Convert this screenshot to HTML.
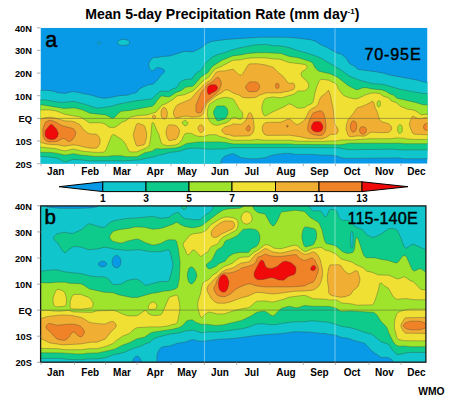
<!DOCTYPE html>
<html><head><meta charset="utf-8"><style>
html,body{margin:0;padding:0;background:#fff;width:450px;height:400px;overflow:hidden}
svg{display:block;font-family:"Liberation Sans",sans-serif}
</style></head><body>
<svg width="450" height="400" viewBox="0 0 450 400">
<rect width="450" height="400" fill="#fff"/>
<text x="222.3" y="19" text-anchor="middle" font-size="14.1" font-weight="bold">Mean 5-day Precipitation Rate (mm day<tspan font-size="8" dy="-5">-1</tspan><tspan dy="5">)</tspan></text>
<g><clipPath id="cp1"><rect x="40.5" y="27.8" width="387.0" height="135.9"/></clipPath>
<g clip-path="url(#cp1)">
<rect x="40.5" y="27.8" width="387.0" height="135.9" fill="#089ae6"/>
<path fill="#10c6cc" fill-rule="evenodd" stroke="#3c3c3c" stroke-opacity="0.45" stroke-width="0.75" d="M98.6,41.9 97.9,42.7 97.9,43.4 98.4,43.9 99.6,43.9 100.1,42.7 99.4,41.9ZM117.6,41.7 117.9,43.7 118.6,44.4 121.4,45.4 126.6,45.2 128.4,44.4 129.4,43.2 129.4,41.7 128.1,40.4 124.9,39.4 120.9,39.7 118.9,40.4ZM429.4,82.4 424.4,82.2 417.6,80.2 389.1,74.9 384.4,73.4 376.6,71.9 358.1,69.4 354.4,66.2 349.4,63.4 345.6,57.7 341.4,54.2 337.1,53.2 326.9,47.4 320.1,44.4 315.6,41.4 311.6,39.9 295.9,37.9 285.4,37.2 260.1,37.2 226.9,39.4 211.9,41.4 207.6,42.9 201.1,47.9 192.9,51.9 184.1,51.4 170.4,55.9 160.6,56.7 157.6,57.4 153.9,57.4 152.4,58.2 150.1,60.9 148.9,63.7 148.9,66.4 150.1,69.2 151.1,70.2 152.9,70.7 156.6,67.7 158.1,67.4 161.4,68.2 163.4,69.2 164.6,70.7 164.6,71.9 160.4,75.9 157.9,79.7 153.9,83.4 152.4,84.2 147.1,85.2 141.1,87.9 139.6,88.9 136.6,92.4 134.9,93.2 132.6,93.4 127.1,95.2 121.1,95.4 106.4,98.2 103.1,98.2 98.4,97.4 93.6,95.7 74.4,91.7 71.9,91.7 65.1,93.4 57.4,92.7 54.1,91.4 48.9,90.4 38.6,90.2 38.6,165.7 220.9,165.7 220.9,161.4 222.1,158.4 225.4,155.9 232.1,153.7 233.6,153.7 241.1,157.7 248.9,158.7 257.1,158.7 263.9,157.9 273.4,154.9 284.1,153.4 290.6,153.4 295.9,154.4 313.1,154.4 317.6,154.9 331.1,155.2 337.6,156.2 340.9,157.7 347.4,158.4 398.9,157.9 403.6,158.7 429.4,158.7Z"/>
<path fill="#0ecb8c" fill-rule="evenodd" stroke="#3c3c3c" stroke-opacity="0.45" stroke-width="0.75" d="M429.4,93.7 422.4,93.4 400.6,89.4 386.1,85.2 380.6,84.2 372.9,83.7 361.6,80.9 349.4,76.2 339.9,69.2 336.6,67.7 333.1,65.2 319.1,57.2 308.9,53.7 297.1,50.4 289.6,47.7 280.6,45.9 273.1,45.7 266.6,44.4 255.1,44.9 238.1,48.2 228.9,50.9 224.1,52.9 217.9,54.4 212.6,56.9 209.4,59.4 205.1,63.7 201.6,69.4 200.1,70.9 197.1,72.4 195.1,74.2 192.1,78.7 190.6,79.2 185.6,79.4 181.9,80.9 179.1,83.2 177.6,86.2 176.1,87.9 171.4,89.4 168.6,91.4 160.9,91.2 159.6,91.7 151.6,98.9 136.6,100.7 119.4,103.9 110.9,106.4 98.1,108.2 95.6,107.9 85.4,104.4 73.9,101.4 62.6,102.4 56.6,101.9 45.6,99.9 38.6,99.7 38.6,156.4 46.1,156.7 55.9,157.9 58.4,158.7 64.1,161.7 66.4,161.7 72.9,159.4 81.6,159.9 88.9,160.9 123.1,160.9 139.6,159.9 145.1,158.4 153.9,156.9 157.6,155.4 163.9,154.2 169.4,152.4 177.1,151.7 180.9,150.9 186.1,148.9 191.6,148.2 198.9,148.2 206.9,149.2 224.9,148.9 230.9,147.7 331.1,147.7 338.4,147.9 349.1,149.7 392.4,149.2 400.9,149.9 429.4,149.9Z"/>
<path fill="#9ee42c" fill-rule="evenodd" stroke="#3c3c3c" stroke-opacity="0.45" stroke-width="0.75" d="M429.4,105.2 422.9,104.7 415.4,102.4 396.9,98.2 393.6,95.2 389.6,93.7 385.6,91.2 381.9,89.9 371.9,88.9 366.4,87.7 363.1,87.7 357.4,89.7 355.6,89.4 347.9,85.4 337.9,77.4 329.9,73.7 319.6,71.4 318.1,70.7 315.1,67.9 313.1,63.7 311.4,62.2 309.4,61.2 298.1,57.7 289.4,56.4 280.6,53.4 267.1,52.7 258.1,52.7 248.1,53.4 240.9,54.9 232.6,55.9 222.1,60.2 213.1,65.9 210.6,68.4 208.9,71.4 207.4,72.9 201.1,76.9 194.9,84.2 192.6,86.2 185.6,87.2 181.1,90.7 176.1,92.4 170.9,95.9 168.6,96.9 161.4,95.9 157.1,100.4 155.1,103.7 152.4,106.2 129.9,110.4 121.4,111.2 119.6,112.2 114.1,117.7 113.1,118.2 111.6,117.9 105.9,114.9 89.9,113.2 81.9,109.7 74.4,107.9 63.9,108.4 42.6,104.9 38.6,104.9 38.6,152.2 50.6,152.4 57.6,153.4 63.9,154.9 66.6,154.9 73.4,153.7 79.9,154.9 94.9,156.4 107.9,156.4 112.1,155.7 120.9,155.7 126.1,156.7 136.4,156.7 138.4,156.2 144.9,152.7 151.9,151.2 155.9,148.7 161.4,148.9 175.9,147.9 180.4,146.7 186.9,143.4 199.1,141.9 219.1,141.9 224.9,142.4 233.1,143.9 291.1,143.9 294.1,144.4 341.1,144.7 349.6,143.2 399.9,143.2 404.4,143.7 429.4,143.7ZM217.1,105.9 223.6,105.9 225.1,106.4 226.9,108.2 227.9,110.7 227.9,113.9 226.4,117.2 224.6,119.2 218.9,120.7 217.4,120.7 216.1,119.7 213.6,113.9 213.6,111.4 214.9,108.7Z"/>
<path fill="#f0e034" fill-rule="evenodd" stroke="#3c3c3c" stroke-opacity="0.45" stroke-width="0.75" d="M429.4,114.4 424.1,114.4 421.4,114.9 415.4,110.7 412.1,109.7 407.6,109.2 400.6,106.4 396.6,102.9 390.9,100.7 388.4,97.7 383.4,96.2 379.4,93.4 374.4,92.9 371.1,93.2 365.4,94.9 356.9,98.9 353.4,98.7 348.4,97.4 344.1,95.7 342.4,94.2 338.4,88.9 336.6,84.7 335.4,83.4 328.6,80.2 321.1,79.2 319.1,81.2 317.1,85.7 315.1,92.2 313.4,100.7 312.6,102.7 311.6,103.7 307.4,105.4 304.4,107.7 300.1,108.2 297.1,107.9 291.4,104.4 288.6,103.9 284.1,106.7 272.1,112.2 265.9,115.7 264.6,115.7 263.6,114.7 262.6,112.4 261.9,109.2 261.9,106.4 263.6,100.7 265.4,98.4 272.4,96.9 277.9,97.7 281.9,97.7 293.9,94.2 298.1,90.9 304.6,90.9 307.1,89.4 308.6,86.7 308.6,84.2 307.1,81.4 302.1,76.9 300.9,74.4 301.9,71.7 305.6,69.4 306.6,68.4 307.1,66.7 306.1,65.2 304.6,64.4 288.6,62.4 279.9,59.2 273.6,58.9 264.1,57.7 251.4,57.9 245.4,58.7 240.1,59.9 233.1,60.2 220.9,66.7 215.9,68.7 213.1,71.2 208.9,76.9 203.4,80.7 193.4,90.7 184.4,94.7 177.1,95.9 173.4,99.2 166.1,103.7 161.9,105.2 155.9,112.2 147.1,114.9 136.9,115.7 130.4,117.2 125.9,120.7 121.6,122.4 116.6,126.4 113.6,127.7 109.4,127.2 107.1,125.9 104.9,123.9 102.6,123.2 98.9,122.7 89.6,122.9 80.9,117.2 64.6,114.2 56.1,110.9 49.6,109.9 38.6,109.9 38.6,146.9 55.9,148.7 63.9,150.7 66.1,150.7 72.1,149.2 73.9,149.2 82.6,151.2 95.9,152.4 103.4,152.2 104.6,151.7 106.1,149.4 111.4,135.9 112.6,134.7 114.1,134.7 120.6,138.7 123.6,141.4 125.6,144.2 129.1,151.4 130.4,151.9 136.6,151.9 146.6,147.7 148.9,145.9 149.6,144.2 150.9,135.9 151.9,123.4 152.6,122.4 153.9,123.2 156.1,128.9 158.6,133.7 161.4,143.2 163.6,144.7 167.1,145.7 174.4,145.2 178.6,143.7 181.9,139.9 184.1,134.9 185.4,133.7 186.6,133.2 191.4,133.4 195.9,135.7 198.9,136.4 203.6,136.4 209.4,134.7 215.9,134.7 219.6,136.4 224.9,137.7 230.4,139.7 235.6,140.4 250.9,140.2 258.1,139.4 263.1,140.2 289.9,140.2 297.1,141.2 324.6,141.4 328.6,140.9 336.6,140.9 341.9,139.9 353.9,139.9 370.9,138.7 390.9,138.7 396.4,137.9 403.4,138.2 406.9,138.9 413.4,139.4 429.4,139.4ZM399.6,124.4 401.4,125.2 402.4,127.7 402.1,131.7 400.4,133.4 399.4,133.4 398.1,132.2 397.6,130.7 397.9,126.4ZM184.4,120.4 186.1,120.7 187.9,122.7 187.6,124.4 185.9,125.9 184.1,125.4 182.1,122.9 182.1,122.2ZM378.4,100.7 379.4,100.7 380.1,101.4 380.6,103.2 380.1,105.9 379.1,106.9 378.4,106.9 377.1,105.2 377.1,102.4ZM232.9,98.9 234.4,100.7 239.4,109.2 241.6,111.4 242.6,113.2 242.9,116.2 242.1,117.9 240.9,119.2 239.9,119.4 234.9,117.4 233.1,117.4 228.6,121.4 226.4,122.7 216.9,125.4 214.4,124.9 211.9,123.7 209.6,121.2 208.1,118.2 207.4,114.9 207.6,109.7 208.6,105.9 209.6,104.2 216.6,99.4 223.9,97.4 227.4,97.4Z"/>
<path fill="#f0af32" fill-rule="evenodd" stroke="#3c3c3c" stroke-opacity="0.45" stroke-width="0.75" d="M200.1,124.9 198.9,125.9 198.1,127.4 198.1,129.2 198.9,130.9 200.4,132.4 201.6,132.4 203.4,130.7 204.1,128.2 202.6,125.7 201.4,124.9ZM169.1,124.7 167.6,126.2 166.1,130.7 166.1,134.2 167.4,137.9 168.6,140.2 169.4,140.7 175.9,139.4 177.4,137.9 179.1,133.9 179.6,129.9 176.6,125.9 174.4,125.2ZM138.4,123.4 137.1,123.7 135.9,125.7 133.4,133.9 133.4,136.2 135.6,143.7 136.6,145.7 137.4,146.2 144.1,144.7 145.1,143.2 146.6,137.2 146.6,133.2 144.9,126.4 143.6,125.2ZM38.6,119.7 38.6,141.9 47.4,144.2 58.6,144.9 64.1,146.2 72.9,144.9 76.9,145.2 87.4,147.7 91.4,148.2 95.9,148.2 97.1,147.7 98.6,145.9 99.9,143.2 100.1,139.4 99.4,137.4 97.4,134.9 95.9,134.2 90.1,133.9 87.1,132.7 83.1,128.9 79.9,124.7 74.6,121.9 71.4,121.2 65.1,120.9 55.6,118.2 49.9,117.2 44.9,117.7ZM412.4,116.4 410.9,118.9 409.4,123.7 409.6,125.9 412.4,132.9 414.4,134.2 429.4,134.9 429.4,117.7 425.1,117.7 419.9,118.9 416.1,117.9 413.6,116.4ZM153.6,115.2 152.6,115.9 152.4,117.2 153.6,118.9 154.6,118.9 155.6,117.9 155.6,116.4 154.6,115.2ZM251.4,113.7 250.1,112.7 249.4,112.7 248.6,113.4 246.1,119.7 245.1,121.2 241.9,123.9 240.6,124.4 233.1,123.9 230.4,125.4 224.6,126.9 222.1,129.4 221.9,130.7 222.4,131.7 225.1,134.2 229.6,134.9 233.4,136.2 248.6,135.9 250.6,135.2 253.1,132.7 254.1,129.2 254.1,125.7 253.1,118.2ZM163.9,107.4 163.1,107.7 161.6,109.7 161.1,111.4 161.1,115.4 162.1,117.9 162.9,118.7 164.6,119.2 166.4,117.9 167.1,116.4 167.4,112.2 165.9,108.4ZM391.6,127.2 390.6,125.4 388.6,123.7 382.1,121.9 379.6,119.9 377.4,112.4 374.9,107.2 373.9,102.9 372.9,101.4 371.9,101.4 368.1,103.7 362.1,106.4 357.6,107.7 356.4,108.7 353.1,113.7 348.4,119.2 346.4,124.7 346.1,129.2 347.6,134.2 348.4,135.7 349.4,136.4 351.6,136.7 357.1,135.9 363.9,136.2 366.1,135.4 370.1,132.7 372.4,132.2 380.9,132.7 388.1,132.4 389.4,131.9 391.1,130.2 391.6,129.2ZM328.9,90.7 328.1,90.4 324.9,93.9 321.4,96.4 319.9,98.9 317.9,104.4 315.4,106.9 311.9,108.7 309.1,110.9 305.1,119.2 303.1,121.4 298.6,124.2 296.6,124.4 294.9,123.4 290.4,119.4 287.9,118.9 284.6,120.7 280.4,122.2 267.4,122.4 264.9,122.9 263.4,124.4 262.1,127.9 262.6,131.2 264.4,134.4 267.1,135.4 289.1,135.2 299.9,136.7 309.1,138.7 321.9,138.9 326.4,137.4 330.6,134.4 335.1,134.4 336.9,133.7 338.1,131.4 338.1,129.2 337.1,127.2 335.4,125.2 334.6,122.9 333.4,110.4 330.4,95.2ZM294.6,84.9 294.1,83.9 292.6,82.9 290.4,83.4 288.4,83.2 282.9,76.2 277.9,72.2 273.1,67.2 264.4,64.7 257.1,63.7 249.6,63.9 248.1,64.9 242.9,73.4 241.1,75.2 238.9,74.7 233.9,69.7 232.9,69.2 224.6,70.9 218.6,71.2 215.9,72.4 212.1,78.2 209.9,80.4 204.9,83.7 196.6,92.2 190.6,99.2 177.6,104.7 175.9,106.4 173.9,110.2 173.4,112.2 173.6,114.4 174.4,116.7 175.9,117.9 177.6,117.9 183.6,116.2 187.9,116.2 192.1,117.2 200.4,116.2 202.1,115.2 203.4,113.7 205.6,106.2 206.9,103.7 215.9,95.9 221.4,92.9 225.4,89.9 227.1,89.9 229.4,90.7 233.6,93.2 238.9,94.9 242.6,97.4 248.1,97.9 253.6,97.7 255.9,97.2 259.6,95.2 265.9,92.9 280.9,92.9 284.1,91.9 288.4,91.4 290.9,90.2 292.6,89.9 294.1,88.7 294.6,87.7Z"/>
<path fill="#f08228" fill-rule="evenodd" stroke="#3c3c3c" stroke-opacity="0.45" stroke-width="0.75" d="M361.9,126.7 360.6,127.4 359.6,129.2 359.6,131.4 360.9,133.4 362.4,134.2 363.6,134.2 365.9,132.4 366.4,129.7 365.9,128.2 364.6,126.9ZM248.9,125.4 247.9,125.7 246.1,128.2 246.4,129.9 247.9,131.2 249.1,130.9 250.1,129.4 250.1,127.2ZM287.4,124.9 286.4,125.9 286.9,127.2 288.1,126.7 288.1,125.4ZM424.9,123.9 423.6,125.9 423.6,127.9 424.4,129.4 425.9,130.4 429.4,130.4 429.4,123.2 427.1,123.2ZM352.9,120.9 351.6,121.9 350.4,125.2 350.4,128.4 351.4,130.9 352.1,131.7 353.9,132.2 355.1,131.4 356.1,129.7 356.6,127.9 356.6,124.4 356.1,122.7 354.9,121.2ZM44.4,124.2 42.9,129.9 43.1,135.9 44.9,139.7 47.4,141.4 49.6,141.9 55.1,141.7 58.4,140.9 62.9,138.4 64.6,138.7 67.9,141.2 69.9,141.4 72.9,139.2 75.1,135.7 75.9,132.2 74.1,129.4 71.9,128.2 62.1,125.7 55.1,121.7 51.1,120.4 48.9,120.4 46.1,121.7ZM321.6,110.9 319.6,110.9 313.6,112.7 312.4,113.9 309.6,119.9 307.9,125.2 307.6,129.7 308.4,131.4 309.9,132.9 312.6,134.4 317.9,135.4 321.4,135.4 322.4,134.9 324.9,131.9 325.9,128.4 325.9,124.2 325.1,118.7 323.9,113.9ZM277.1,83.2 276.1,83.7 275.6,84.7 275.6,86.9 276.4,88.2 277.9,88.4 278.9,87.4 279.1,84.9 278.1,83.4ZM245.9,85.9 245.6,87.4 246.4,89.2 248.4,91.4 249.9,91.9 256.4,91.4 258.6,89.7 259.6,87.7 259.6,85.9 258.9,84.2 257.6,82.7 256.1,81.9 249.9,81.9 248.9,82.4ZM218.4,77.4 217.1,77.4 212.6,81.4 207.4,84.7 205.4,86.7 203.6,89.7 201.1,92.7 196.1,104.7 195.9,111.4 197.1,112.7 200.1,112.9 201.4,111.7 205.9,102.4 216.9,92.7 219.1,90.2 221.1,85.2 221.4,83.2 220.1,79.7Z"/>
<path fill="#f00a0a" fill-rule="evenodd" stroke="#3c3c3c" stroke-opacity="0.45" stroke-width="0.75" d="M51.4,124.4 50.1,124.9 45.6,130.2 45.1,131.7 45.1,135.2 45.9,136.9 47.4,138.4 50.1,139.4 53.4,139.4 55.4,138.7 57.4,136.9 58.4,133.2 56.4,128.9 52.6,124.9ZM313.4,122.4 311.4,125.9 311.4,128.2 311.9,129.4 313.4,130.9 315.4,131.7 318.1,131.9 320.9,131.2 321.9,130.2 322.9,127.9 322.9,125.9 321.4,122.9 320.6,122.2 318.4,121.4 314.9,121.7ZM216.1,85.2 214.9,84.7 211.1,84.7 209.1,85.7 207.9,86.9 207.4,88.7 207.4,92.2 208.4,94.2 209.9,94.4 211.6,92.9 215.4,91.2 216.9,89.7 217.4,88.7 217.4,86.7Z"/>
</g></g>
<line x1="40.5" y1="118.4" x2="427.5" y2="118.4" stroke="#5a5a3a" stroke-opacity="0.5" stroke-width="1"/>
<line x1="204.5" y1="28.2" x2="204.5" y2="163.7" stroke="#fff" stroke-opacity="0.4" stroke-width="1.1"/>
<line x1="335" y1="28.2" x2="335" y2="163.7" stroke="#fff" stroke-opacity="0.4" stroke-width="1.1"/>
<text x="45.3" y="46.7" font-size="21.5" stroke="#000" stroke-width="0.5">a</text>
<text x="421.5" y="60.2" text-anchor="end" font-size="16.2" letter-spacing="0.8" stroke="#000" stroke-width="0.4">70-95E</text>
<g><clipPath id="cp2"><rect x="40.5" y="205.8" width="385.5" height="156.5"/></clipPath>
<g clip-path="url(#cp2)">
<rect x="40.5" y="205.8" width="385.5" height="156.5" fill="#089ae6"/>
<path fill="#10c6cc" fill-rule="evenodd" stroke="#3c3c3c" stroke-opacity="0.45" stroke-width="0.75" d="M38.6,203.9 38.6,364.2 132.9,364.2 132.9,360.7 133.4,358.9 135.4,356.7 136.4,356.2 138.4,356.4 140.6,358.9 141.1,360.7 141.1,364.2 156.9,364.2 156.9,355.7 157.4,353.4 159.1,349.7 161.1,347.4 163.6,346.7 169.9,345.9 177.4,343.2 185.1,342.2 191.6,339.7 193.9,339.7 199.4,341.2 203.9,341.2 216.9,339.4 234.1,338.4 258.1,335.2 282.6,333.4 295.1,331.7 310.6,332.2 320.6,333.4 325.1,333.4 328.9,334.4 335.6,335.2 341.4,337.4 347.9,338.2 355.4,340.9 363.6,342.9 365.1,343.7 371.6,350.7 379.9,356.7 381.6,357.4 387.6,357.4 390.9,358.9 392.9,361.2 393.1,364.2 427.9,364.2 427.9,203.9 83.1,203.9 91.1,204.2 96.6,204.9 97.9,205.7 97.1,206.9 90.1,207.9 76.1,208.4 58.6,208.2 46.9,206.9 46.1,205.7 47.4,204.9 52.9,204.2 60.9,203.9ZM98.4,263.2 100.4,261.4 103.9,261.2 105.1,261.7 106.6,263.2 106.6,264.7 105.6,265.9 104.1,266.7 100.9,266.7 98.6,265.2ZM116.4,255.4 118.1,255.9 119.9,257.7 120.9,260.4 120.9,263.2 120.1,265.4 118.6,267.2 116.9,267.9 114.4,267.2 112.9,265.4 112.1,263.2 112.1,260.4 113.1,257.7 114.9,255.9Z"/>
<path fill="#0ecb8c" fill-rule="evenodd" stroke="#3c3c3c" stroke-opacity="0.45" stroke-width="0.75" d="M38.6,271.2 38.6,358.4 59.9,358.4 71.6,359.7 82.6,359.7 87.1,358.9 96.1,358.9 101.4,358.4 106.6,357.4 113.4,354.7 118.4,353.9 125.4,351.9 132.4,348.7 141.9,345.7 145.1,343.9 148.9,342.7 150.6,341.7 153.9,338.7 159.4,336.7 169.6,334.2 180.1,332.7 185.9,330.9 193.9,330.2 200.9,332.7 208.1,331.9 218.1,331.9 242.4,328.7 248.1,327.2 257.1,323.9 263.6,323.7 270.1,324.7 275.6,324.7 281.6,323.4 293.4,321.9 304.9,321.7 310.1,320.9 315.6,320.9 320.1,321.7 326.4,321.9 335.6,324.2 341.4,326.4 348.6,327.4 355.1,328.9 365.6,332.7 371.9,334.2 381.1,341.7 388.4,344.2 393.4,351.2 397.1,354.4 399.6,354.4 404.4,353.2 410.6,352.4 427.9,352.4 427.9,249.7 424.6,249.4 414.1,244.4 412.4,244.4 409.9,245.7 407.4,247.7 405.4,248.2 403.4,245.2 401.1,238.4 397.9,231.2 396.6,229.7 394.9,228.9 390.9,228.4 388.1,228.9 381.6,233.7 374.4,237.2 371.6,237.2 366.6,234.7 363.9,231.2 361.9,229.4 354.4,226.2 349.1,220.9 347.4,220.4 342.4,220.4 340.9,219.7 339.1,217.4 337.1,211.9 335.9,210.2 331.9,209.4 329.9,209.7 329.1,210.4 326.9,215.7 325.9,216.7 324.9,216.7 320.6,210.9 313.4,210.9 311.6,209.9 309.1,206.9 308.9,203.9 213.1,203.9 212.9,208.4 211.4,210.7 208.9,212.9 204.6,215.4 200.9,219.2 199.6,219.7 192.4,219.7 189.6,218.9 184.9,218.7 182.1,216.7 178.9,212.9 177.1,212.4 173.9,213.7 169.9,216.7 167.1,217.7 160.1,218.2 153.9,216.7 148.6,216.7 137.4,217.9 127.4,218.4 114.9,220.4 110.4,222.2 104.4,227.4 100.9,227.2 89.4,223.7 87.6,224.4 81.4,229.7 73.1,233.4 70.9,233.4 64.1,232.2 56.9,233.9 54.1,236.4 53.6,237.4 53.9,239.4 57.9,243.4 61.9,249.9 64.6,252.7 65.9,252.4 68.6,249.7 73.6,246.4 81.4,247.2 88.6,249.7 97.6,248.9 103.4,247.4 105.9,247.4 116.4,249.4 127.4,250.4 138.9,249.7 150.9,251.7 160.4,251.7 168.6,249.7 170.1,251.9 172.9,263.2 172.9,266.4 169.4,279.9 167.6,281.4 159.6,281.7 145.4,285.4 139.1,280.2 137.1,279.2 133.6,279.2 127.4,280.4 120.4,284.2 113.6,284.7 111.6,282.9 108.6,279.2 104.6,276.9 95.6,276.7 89.9,275.9 81.6,273.7 65.1,271.9 57.6,269.9 51.6,269.9 41.9,271.2ZM351.6,231.4 352.6,231.9 353.1,234.9 352.9,246.2 352.1,248.2 351.4,247.9 350.9,246.4 350.4,237.7 350.6,233.7ZM181.1,203.9 181.1,206.2 181.9,208.2 183.1,209.4 185.1,209.4 186.6,207.4 186.9,203.9Z"/>
<path fill="#9ee42c" fill-rule="evenodd" stroke="#3c3c3c" stroke-opacity="0.45" stroke-width="0.75" d="M427.9,271.9 425.6,271.9 420.9,268.7 418.9,268.9 415.4,270.7 413.6,270.9 412.1,269.4 406.6,257.2 405.6,255.9 404.4,255.4 402.4,256.4 398.4,261.7 396.9,262.9 395.6,262.9 388.1,260.4 381.4,259.4 375.6,257.9 366.1,257.7 364.1,255.9 362.9,253.4 358.4,239.7 356.9,237.2 356.4,237.4 355.6,239.7 354.6,248.4 353.6,251.4 352.4,252.7 347.6,253.4 342.4,251.7 339.6,248.9 335.4,245.9 332.9,244.9 326.9,243.7 325.4,242.4 324.1,239.2 322.1,230.2 319.4,223.7 317.1,221.4 310.1,217.4 304.9,211.9 303.9,211.4 295.4,210.2 281.9,211.9 280.6,212.9 278.6,218.2 276.1,222.9 273.9,225.7 272.6,225.9 270.4,223.7 265.6,214.9 264.6,213.9 258.4,212.7 256.9,211.9 254.1,209.4 252.9,206.9 252.9,203.9 245.1,203.9 244.9,204.9 243.6,206.4 239.9,208.2 228.1,208.9 223.4,209.9 217.4,213.7 202.4,225.2 199.6,226.4 194.1,227.7 191.1,227.7 184.6,226.4 180.1,224.4 177.4,222.4 176.1,222.4 172.4,224.4 162.6,227.9 159.1,228.7 152.6,229.2 144.1,227.2 135.4,226.9 128.6,228.4 120.4,229.4 115.1,230.7 112.9,231.7 110.4,234.7 109.6,236.7 110.1,238.4 112.6,241.2 119.1,242.9 122.4,242.9 127.9,240.9 136.4,238.9 139.6,239.7 144.9,242.4 152.1,244.9 154.6,244.9 160.1,243.7 165.9,240.7 168.9,239.7 175.1,239.9 176.6,241.2 178.6,250.4 180.1,262.7 179.4,278.2 177.6,287.2 175.9,288.7 169.4,290.7 162.9,291.2 157.1,292.7 152.4,293.2 137.4,297.4 131.4,297.4 119.1,294.9 112.9,292.7 104.1,292.2 89.4,288.9 83.4,284.9 80.6,283.7 69.1,283.2 65.6,282.2 56.1,282.2 50.1,282.9 38.6,282.7 38.6,352.7 61.6,352.9 75.6,353.9 83.1,353.9 87.4,353.2 98.1,352.9 114.6,349.2 122.4,345.2 129.4,342.7 137.1,338.7 144.4,337.2 149.9,333.4 152.6,332.2 172.6,329.2 178.6,327.7 182.4,325.7 186.6,320.9 189.6,319.9 192.6,319.9 195.6,322.2 200.9,324.2 208.1,324.4 215.1,325.4 222.9,324.9 241.6,320.4 251.1,315.9 256.9,312.2 262.6,311.2 265.6,311.4 270.9,315.2 273.1,315.9 275.1,314.7 277.6,311.7 281.6,308.2 288.4,306.4 290.4,306.4 295.1,307.7 298.1,307.7 304.4,305.4 311.4,306.2 329.4,306.4 335.6,307.9 341.1,311.4 350.9,310.9 373.9,312.4 376.9,314.9 381.1,321.4 385.9,326.2 387.4,328.7 388.6,332.4 392.6,340.7 394.1,342.9 396.6,345.4 399.6,346.2 403.6,345.9 410.4,346.7 427.9,346.7ZM191.4,266.9 192.9,267.4 193.9,268.4 195.9,271.9 196.9,275.2 196.6,276.9 194.9,280.9 192.1,283.9 190.4,283.7 188.9,282.2 187.4,277.4 187.4,273.2 188.9,268.4 189.9,267.4ZM257.9,231.2 259.1,233.4 259.9,236.2 259.9,239.7 258.4,243.9 256.4,246.4 251.6,248.7 248.4,252.4 239.4,252.4 233.4,253.7 228.9,256.4 224.9,261.2 219.4,263.4 216.4,265.9 213.6,267.4 210.4,268.7 208.6,268.7 206.6,266.9 206.4,264.9 206.9,263.9 211.9,259.9 216.4,250.7 217.9,249.2 220.1,248.2 222.9,245.9 224.9,241.7 226.1,240.4 229.6,239.4 237.1,235.7 243.1,229.4 249.9,228.7 255.9,229.7ZM305.4,226.7 314.4,228.7 315.6,229.9 316.6,233.2 316.4,238.4 313.9,243.9 312.1,245.2 305.9,246.9 305.1,246.7 303.6,244.7 301.9,238.2 301.9,235.2 302.9,230.2 303.9,227.9Z"/>
<path fill="#f0e034" fill-rule="evenodd" stroke="#3c3c3c" stroke-opacity="0.45" stroke-width="0.75" d="M396.9,313.7 395.1,318.7 394.4,323.4 394.4,327.9 396.9,337.7 398.1,339.4 403.9,340.7 427.9,340.9 427.9,309.2 410.9,309.2 406.4,309.7 400.6,311.2 398.1,312.4ZM156.4,304.2 153.9,301.9 151.6,302.2 148.6,305.2 148.1,308.7 149.1,309.4 153.9,309.4 155.4,308.9 156.9,306.9 156.9,305.2ZM177.9,296.2 177.1,295.2 176.1,294.9 169.1,297.4 162.1,313.4 160.9,314.7 157.1,315.4 152.6,315.4 150.9,314.9 148.1,313.4 146.4,310.7 144.6,310.7 137.1,315.7 128.1,315.9 122.4,313.9 117.1,311.4 113.1,310.4 97.1,310.9 91.4,312.4 73.1,311.9 69.1,310.4 59.6,311.2 52.1,310.9 49.9,310.4 38.6,310.4 38.6,348.4 57.1,348.7 64.6,349.7 81.6,349.7 88.4,348.7 96.9,348.7 105.9,346.4 112.6,343.7 117.4,339.7 123.1,335.9 129.1,333.7 133.1,329.9 136.9,327.7 149.4,326.9 160.6,326.9 168.1,325.9 171.6,324.7 175.6,323.9 176.9,322.9 177.9,320.4 179.9,309.7 179.4,302.9ZM71.6,297.2 70.1,301.7 70.1,306.9 70.6,308.4 71.6,308.9 80.9,309.2 91.4,307.9 92.9,306.4 93.1,302.9 90.9,299.2 88.4,297.2 80.6,294.4 74.1,294.4 72.9,295.2ZM57.1,289.4 55.1,292.2 53.1,297.7 53.1,302.2 53.9,305.4 56.1,306.9 64.6,306.2 65.9,305.2 66.6,300.7 66.4,297.7 64.6,292.2 62.6,290.7 58.9,289.4ZM197.6,306.7 200.1,315.9 201.1,317.4 201.9,317.4 204.9,314.4 208.4,312.2 210.4,312.2 217.1,313.9 224.1,313.9 233.9,310.7 241.9,308.7 247.9,307.9 250.6,306.4 254.4,302.9 257.1,301.2 264.9,300.9 270.9,301.9 273.6,301.9 282.1,299.7 289.1,297.2 303.1,295.4 306.1,295.7 312.9,298.7 325.4,299.2 328.6,299.9 335.6,299.9 337.4,300.4 341.6,302.9 351.6,303.9 356.6,305.2 372.1,304.9 373.6,303.7 375.1,300.2 378.4,290.2 379.6,283.9 380.6,282.9 381.6,283.2 384.1,285.7 388.4,288.2 392.6,295.7 395.1,298.4 397.1,299.4 402.9,298.7 406.9,298.7 413.9,299.7 427.9,299.9 427.9,289.9 423.6,289.9 420.6,289.2 413.6,281.9 409.1,279.9 404.9,276.9 403.6,276.9 399.1,278.7 397.1,278.9 388.9,275.2 378.6,274.9 371.6,272.2 366.9,271.2 362.9,267.7 356.1,264.7 352.1,262.2 341.1,258.9 336.1,254.2 329.1,250.9 325.4,250.2 321.4,247.4 312.6,248.4 306.4,251.4 304.4,251.4 302.6,250.4 297.9,246.2 295.6,245.2 292.1,245.7 281.1,248.7 274.1,248.2 269.6,245.4 267.4,244.7 265.1,244.7 257.9,250.2 253.9,252.4 249.4,256.4 248.1,256.9 242.1,257.2 240.1,257.7 237.4,259.2 232.1,263.4 223.4,266.9 220.9,268.7 216.9,272.7 212.6,275.2 208.4,279.7 204.4,281.7 202.9,283.4 202.1,285.4 200.6,293.4 197.9,301.7ZM237.6,220.7 236.4,219.2 233.1,217.7 227.9,216.9 224.1,217.2 219.6,219.2 210.6,224.9 205.9,230.7 200.6,232.9 193.4,233.7 189.9,235.2 184.1,242.2 183.1,244.2 183.4,246.4 185.6,250.2 186.6,253.7 187.6,254.7 188.9,254.7 192.6,250.2 193.9,249.9 194.9,250.4 200.6,256.4 202.1,255.9 204.6,253.7 208.1,251.7 209.9,248.4 211.6,246.4 217.1,244.2 218.4,242.9 220.1,239.9 222.9,237.2 235.4,230.7 236.9,228.9 237.9,226.2 238.1,223.2ZM245.9,211.7 244.1,212.4 242.4,214.2 241.1,217.4 241.1,219.4 242.4,221.9 243.9,223.4 246.9,224.2 249.6,223.2 251.4,221.4 252.1,219.7 252.1,217.4 250.9,214.4 248.9,212.2Z"/>
<path fill="#f0af32" fill-rule="evenodd" stroke="#3c3c3c" stroke-opacity="0.45" stroke-width="0.75" d="M401.1,324.2 401.1,327.2 403.6,331.4 405.4,333.2 427.9,333.4 427.9,317.4 405.9,317.7 404.4,318.7ZM38.6,338.4 41.6,338.9 49.9,342.9 63.1,344.9 81.1,343.9 90.9,342.2 96.9,342.2 105.4,338.9 110.9,331.9 115.4,327.7 116.4,325.4 115.6,323.7 113.9,321.9 112.6,321.4 109.9,321.9 105.4,323.9 100.9,323.9 91.9,322.9 88.6,321.9 84.6,319.2 81.1,317.4 71.6,315.4 61.9,314.9 47.9,316.4 41.4,318.4 38.6,318.7ZM330.1,264.9 328.9,267.2 327.4,275.2 327.4,280.7 328.6,288.2 328.6,292.7 330.1,294.7 332.4,295.7 340.1,297.2 344.4,296.9 349.1,295.4 351.1,293.9 352.9,290.9 357.6,286.9 358.9,284.4 359.9,280.2 359.9,277.9 357.9,271.9 357.1,270.9 355.6,270.7 350.1,273.7 348.1,273.7 344.4,270.7 340.4,265.2 338.1,264.7ZM320.4,260.2 318.1,255.4 316.1,253.2 313.9,251.9 312.6,251.9 309.4,253.4 305.4,254.4 302.4,253.4 297.6,249.9 295.1,249.7 282.9,252.7 279.6,252.9 272.4,251.9 266.9,248.9 264.6,248.7 260.1,251.9 255.1,254.7 249.9,261.2 248.1,261.9 240.6,263.2 232.9,267.9 225.4,269.9 221.4,272.2 208.6,284.9 207.1,287.7 207.1,290.7 210.9,297.9 213.9,301.2 216.4,302.7 218.4,303.2 224.9,303.2 230.4,301.9 241.6,297.7 248.6,295.9 255.9,292.4 259.9,292.4 271.4,293.9 274.4,293.9 295.4,291.2 306.1,290.9 312.4,290.2 314.9,289.2 318.4,286.4 319.6,284.7 321.4,280.4 322.6,274.9 322.6,270.2ZM233.6,222.2 231.9,221.2 224.9,220.9 220.4,222.9 215.9,225.9 212.4,229.7 211.4,231.4 211.1,233.2 211.6,235.9 213.1,237.2 215.9,237.4 218.1,236.4 222.1,233.7 232.1,229.2 233.6,227.9 234.6,225.9 234.6,224.4Z"/>
<path fill="#f08228" fill-rule="evenodd" stroke="#3c3c3c" stroke-opacity="0.45" stroke-width="0.75" d="M45.9,326.9 46.4,328.7 50.1,331.7 56.1,338.4 58.1,339.4 62.6,340.2 65.1,340.2 67.1,338.9 69.1,336.9 71.1,333.7 73.1,331.9 74.6,332.4 78.1,335.7 80.4,336.9 81.6,336.7 83.1,335.2 84.4,332.7 84.4,331.4 83.4,329.4 80.9,326.4 78.9,325.4 73.9,324.2 68.1,324.2 56.9,325.2 49.6,323.4 48.1,323.9 46.4,325.7ZM403.4,325.2 403.9,326.9 405.4,328.2 407.9,329.2 411.9,329.9 418.1,329.9 421.1,329.4 424.9,328.2 426.9,326.2 426.9,324.9 425.4,323.2 421.6,321.7 418.9,321.2 411.1,321.2 408.4,321.7 404.9,323.2ZM318.1,267.2 314.9,260.2 312.6,257.9 310.1,258.4 305.4,260.4 303.9,260.4 299.6,258.4 296.4,254.7 293.4,254.7 282.1,256.4 275.1,256.4 269.9,255.7 265.1,253.9 261.9,255.9 258.4,256.9 257.6,257.7 255.6,262.4 252.9,264.7 247.1,266.7 241.6,267.9 239.1,269.9 233.1,272.2 229.9,272.9 224.1,272.9 220.9,274.2 218.9,276.7 216.9,280.7 215.9,283.9 213.9,287.7 213.9,289.7 216.1,293.9 217.9,295.7 222.6,296.7 225.1,296.7 230.6,293.9 234.9,289.9 237.1,288.4 242.9,285.7 248.1,283.9 250.6,283.9 256.6,285.9 264.6,286.9 292.4,286.9 304.6,285.9 308.6,283.7 312.6,282.4 313.9,281.2 315.9,277.7 317.9,272.7 318.4,269.7Z"/>
<path fill="#f00a0a" fill-rule="evenodd" stroke="#3c3c3c" stroke-opacity="0.45" stroke-width="0.75" d="M222.9,274.7 220.6,276.4 219.6,278.2 218.6,281.4 218.4,284.4 218.9,288.2 219.9,290.2 221.9,291.9 224.1,292.2 225.9,291.2 227.4,288.9 228.6,285.2 228.9,281.4 226.9,276.4 224.4,274.7ZM314.4,265.4 312.9,265.4 311.1,267.2 310.6,269.2 311.4,270.2 313.4,270.7 315.1,269.7 315.6,268.7 315.6,266.9ZM254.1,275.4 254.9,277.7 256.4,278.9 258.4,279.7 263.6,279.4 270.1,277.7 272.6,277.7 278.9,279.9 283.6,280.2 288.4,276.4 293.6,274.7 295.1,273.7 295.9,271.2 295.9,267.7 294.9,265.9 291.1,262.7 286.4,261.2 284.6,261.2 282.1,262.2 277.1,266.4 272.1,268.4 267.9,268.2 265.6,266.4 263.6,261.2 261.4,259.9 259.9,261.4 254.6,271.4 254.1,272.9Z"/>
</g></g>
<line x1="40.5" y1="310.1" x2="426" y2="310.1" stroke="#5a5a3a" stroke-opacity="0.5" stroke-width="1"/>
<line x1="204.5" y1="205.8" x2="204.5" y2="362.3" stroke="#fff" stroke-opacity="0.4" stroke-width="1.1"/>
<line x1="335" y1="205.8" x2="335" y2="362.3" stroke="#fff" stroke-opacity="0.4" stroke-width="1.1"/>
<rect x="40.6" y="205.9" width="385.3" height="156.3" fill="none" stroke="#1a1a1a" stroke-width="1.3"/>
<text x="44.5" y="224.4" font-size="20.5" stroke="#000" stroke-width="0.5">b</text>
<text x="418" y="224" text-anchor="end" font-size="16.2" letter-spacing="0.2" stroke="#000" stroke-width="0.4">115-140E</text>
<g font-size="9.3" font-weight="bold">
<text x="32" y="31.8" text-anchor="end">40N</text>
<line x1="37" y1="27.8" x2="40.5" y2="27.8" stroke="#999" stroke-width="0.8"/>
<text x="32" y="54.4" text-anchor="end">30N</text>
<line x1="37" y1="50.4" x2="40.5" y2="50.4" stroke="#999" stroke-width="0.8"/>
<text x="32" y="77.1" text-anchor="end">20N</text>
<line x1="37" y1="73.1" x2="40.5" y2="73.1" stroke="#999" stroke-width="0.8"/>
<text x="32" y="99.7" text-anchor="end">10N</text>
<line x1="37" y1="95.7" x2="40.5" y2="95.7" stroke="#999" stroke-width="0.8"/>
<text x="32" y="122.4" text-anchor="end">EQ</text>
<line x1="37" y1="118.4" x2="40.5" y2="118.4" stroke="#999" stroke-width="0.8"/>
<text x="32" y="145.0" text-anchor="end">10S</text>
<line x1="37" y1="141.0" x2="40.5" y2="141.0" stroke="#999" stroke-width="0.8"/>
<text x="32" y="167.7" text-anchor="end">20S</text>
<line x1="37" y1="163.7" x2="40.5" y2="163.7" stroke="#999" stroke-width="0.8"/>
<text x="32" y="209.8" text-anchor="end">40N</text>
<line x1="37" y1="205.8" x2="40.5" y2="205.8" stroke="#999" stroke-width="0.8"/>
<text x="32" y="235.9" text-anchor="end">30N</text>
<line x1="37" y1="231.9" x2="40.5" y2="231.9" stroke="#999" stroke-width="0.8"/>
<text x="32" y="262.0" text-anchor="end">20N</text>
<line x1="37" y1="258.0" x2="40.5" y2="258.0" stroke="#999" stroke-width="0.8"/>
<text x="32" y="288.1" text-anchor="end">10N</text>
<line x1="37" y1="284.1" x2="40.5" y2="284.1" stroke="#999" stroke-width="0.8"/>
<text x="32" y="314.1" text-anchor="end">EQ</text>
<line x1="37" y1="310.1" x2="40.5" y2="310.1" stroke="#999" stroke-width="0.8"/>
<text x="32" y="340.2" text-anchor="end">10S</text>
<line x1="37" y1="336.2" x2="40.5" y2="336.2" stroke="#999" stroke-width="0.8"/>
<text x="32" y="366.3" text-anchor="end">20S</text>
<line x1="37" y1="362.3" x2="40.5" y2="362.3" stroke="#999" stroke-width="0.8"/>
<text x="55.7" y="174.9" text-anchor="middle" font-size="10">Jan</text>
<text x="90.2" y="174.9" text-anchor="middle" font-size="10">Feb</text>
<text x="122.0" y="174.9" text-anchor="middle" font-size="10">Mar</text>
<text x="155.2" y="174.9" text-anchor="middle" font-size="10">Apr</text>
<text x="187.0" y="174.9" text-anchor="middle" font-size="10">May</text>
<text x="220.0" y="174.9" text-anchor="middle" font-size="10">Jun</text>
<text x="251.7" y="174.9" text-anchor="middle" font-size="10">Jul</text>
<text x="286.0" y="174.9" text-anchor="middle" font-size="10">Aug</text>
<text x="319.5" y="174.9" text-anchor="middle" font-size="10">Sep</text>
<text x="352.0" y="174.9" text-anchor="middle" font-size="10">Oct</text>
<text x="384.4" y="174.9" text-anchor="middle" font-size="10">Nov</text>
<text x="416.4" y="174.9" text-anchor="middle" font-size="10">Dec</text>
<line x1="41.0" y1="163.7" x2="41.0" y2="166.2" stroke="#999" stroke-width="0.8"/>
<line x1="74.4" y1="163.7" x2="74.4" y2="166.2" stroke="#999" stroke-width="0.8"/>
<line x1="105.6" y1="163.7" x2="105.6" y2="166.2" stroke="#999" stroke-width="0.8"/>
<line x1="137.0" y1="163.7" x2="137.0" y2="166.2" stroke="#999" stroke-width="0.8"/>
<line x1="171.0" y1="163.7" x2="171.0" y2="166.2" stroke="#999" stroke-width="0.8"/>
<line x1="204.4" y1="163.7" x2="204.4" y2="166.2" stroke="#999" stroke-width="0.8"/>
<line x1="236.7" y1="163.7" x2="236.7" y2="166.2" stroke="#999" stroke-width="0.8"/>
<line x1="270.0" y1="163.7" x2="270.0" y2="166.2" stroke="#999" stroke-width="0.8"/>
<line x1="303.3" y1="163.7" x2="303.3" y2="166.2" stroke="#999" stroke-width="0.8"/>
<line x1="335.6" y1="163.7" x2="335.6" y2="166.2" stroke="#999" stroke-width="0.8"/>
<line x1="369.0" y1="163.7" x2="369.0" y2="166.2" stroke="#999" stroke-width="0.8"/>
<line x1="401.0" y1="163.7" x2="401.0" y2="166.2" stroke="#999" stroke-width="0.8"/>
<text x="55.7" y="375.6" text-anchor="middle" font-size="10">Jan</text>
<text x="90.2" y="375.6" text-anchor="middle" font-size="10">Feb</text>
<text x="122.0" y="375.6" text-anchor="middle" font-size="10">Mar</text>
<text x="155.2" y="375.6" text-anchor="middle" font-size="10">Apr</text>
<text x="187.0" y="375.6" text-anchor="middle" font-size="10">May</text>
<text x="220.0" y="375.6" text-anchor="middle" font-size="10">Jun</text>
<text x="251.7" y="375.6" text-anchor="middle" font-size="10">Jul</text>
<text x="286.0" y="375.6" text-anchor="middle" font-size="10">Aug</text>
<text x="319.5" y="375.6" text-anchor="middle" font-size="10">Sep</text>
<text x="352.0" y="375.6" text-anchor="middle" font-size="10">Oct</text>
<text x="384.4" y="375.6" text-anchor="middle" font-size="10">Nov</text>
<text x="416.4" y="375.6" text-anchor="middle" font-size="10">Dec</text>
<line x1="41.0" y1="362.3" x2="41.0" y2="364.8" stroke="#999" stroke-width="0.8"/>
<line x1="74.4" y1="362.3" x2="74.4" y2="364.8" stroke="#999" stroke-width="0.8"/>
<line x1="105.6" y1="362.3" x2="105.6" y2="364.8" stroke="#999" stroke-width="0.8"/>
<line x1="137.0" y1="362.3" x2="137.0" y2="364.8" stroke="#999" stroke-width="0.8"/>
<line x1="171.0" y1="362.3" x2="171.0" y2="364.8" stroke="#999" stroke-width="0.8"/>
<line x1="204.4" y1="362.3" x2="204.4" y2="364.8" stroke="#999" stroke-width="0.8"/>
<line x1="236.7" y1="362.3" x2="236.7" y2="364.8" stroke="#999" stroke-width="0.8"/>
<line x1="270.0" y1="362.3" x2="270.0" y2="364.8" stroke="#999" stroke-width="0.8"/>
<line x1="303.3" y1="362.3" x2="303.3" y2="364.8" stroke="#999" stroke-width="0.8"/>
<line x1="335.6" y1="362.3" x2="335.6" y2="364.8" stroke="#999" stroke-width="0.8"/>
<line x1="369.0" y1="362.3" x2="369.0" y2="364.8" stroke="#999" stroke-width="0.8"/>
<line x1="401.0" y1="362.3" x2="401.0" y2="364.8" stroke="#999" stroke-width="0.8"/>
<path d="M59,186.7 L102.8,181.8 L102.8,191.6 Z" fill="#089ae6" stroke="#000" stroke-width="1"/>
<rect x="102.8" y="181.8" width="43.2" height="9.8" fill="#10c6cc" stroke="#000" stroke-width="1"/>
<rect x="146.0" y="181.8" width="43.0" height="9.8" fill="#0ecb8c" stroke="#000" stroke-width="1"/>
<rect x="189.0" y="181.8" width="43.0" height="9.8" fill="#9ee42c" stroke="#000" stroke-width="1"/>
<rect x="232.0" y="181.8" width="43.5" height="9.8" fill="#f0e034" stroke="#000" stroke-width="1"/>
<rect x="275.5" y="181.8" width="43.5" height="9.8" fill="#f0af32" stroke="#000" stroke-width="1"/>
<rect x="319.0" y="181.8" width="43.0" height="9.8" fill="#f08228" stroke="#000" stroke-width="1"/>
<path d="M362.0,181.8 L408,186.7 L362.0,191.6 Z" fill="#f00a0a" stroke="#000" stroke-width="1"/>
<text x="102.8" y="202.2" text-anchor="middle" font-size="10.2">1</text>
<text x="146.0" y="202.2" text-anchor="middle" font-size="10.2">3</text>
<text x="189.0" y="202.2" text-anchor="middle" font-size="10.2">5</text>
<text x="232.0" y="202.2" text-anchor="middle" font-size="10.2">7</text>
<text x="275.5" y="202.2" text-anchor="middle" font-size="10.2">9</text>
<text x="319.0" y="202.2" text-anchor="middle" font-size="10.2">11</text>
<text x="362.0" y="202.2" text-anchor="middle" font-size="10.2">13</text>
</g>
<text x="444.5" y="394.9" text-anchor="end" font-size="10.3" font-weight="bold">WMO</text>
</svg>
</body></html>
